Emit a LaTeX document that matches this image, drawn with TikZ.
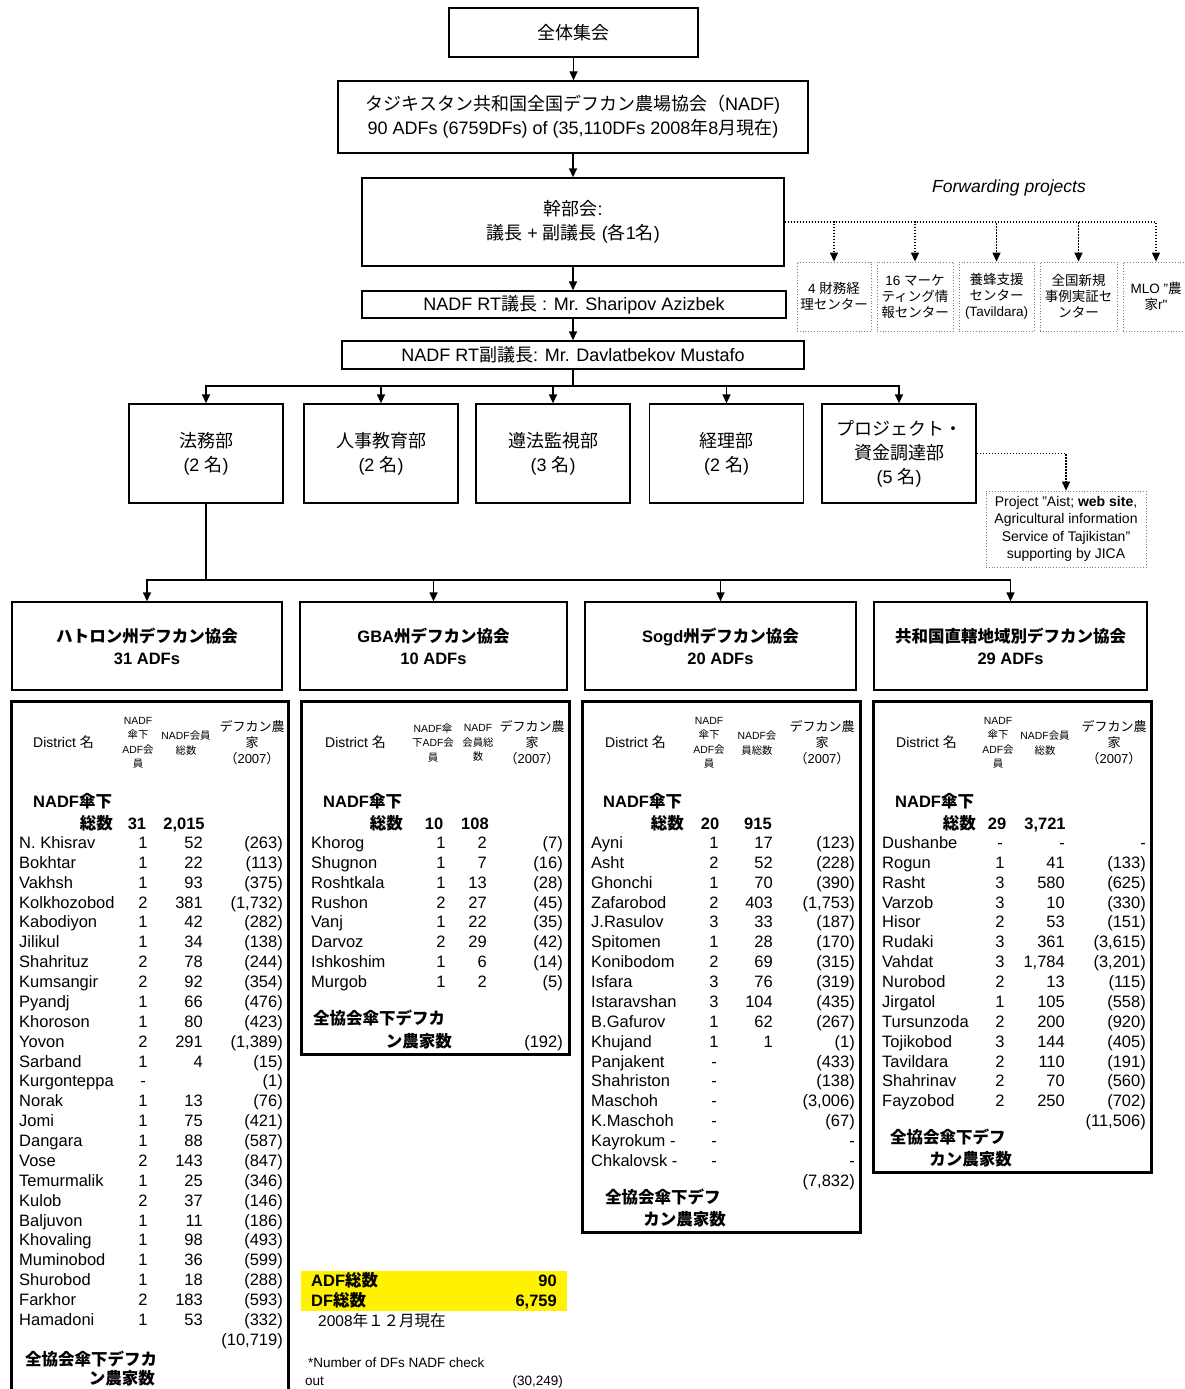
\documentclass[tikz,border=0pt]{standalone}
\usepackage{fontspec}
\setmainfont{Liberation Sans}
\newfontfamily\lsfont[NFSSFamily=lsf]{Liberation Sans}
\newfontfamily\jpfont[NFSSFamily=jpf]{Noto Sans CJK JP}
\usetikzlibrary{arrows.meta,positioning}

% CJK characters are set in the Japanese face automatically
\XeTeXinterchartokenstate=1
\newXeTeXintercharclass\jpclass
\newcount\jpcode
\newcommand\setjprange[2]{%
  \jpcode=#1\relax
  \loop
    \XeTeXcharclass\jpcode=\jpclass
    \ifnum\jpcode<#2\relax
    \advance\jpcode by 1
  \repeat}
\setjprange{"3000}{"30FF}
\setjprange{"4E00}{"9FFF}
\setjprange{"FF00}{"FFEF}
\XeTeXinterchartoks 0 \jpclass = {\fontfamily{jpf}\selectfont}
\XeTeXinterchartoks 4095 \jpclass = {\fontfamily{jpf}\selectfont}
\XeTeXinterchartoks \jpclass 0 = {\fontfamily{lsf}\selectfont}
\XeTeXinterchartoks \jpclass 4095 = {\fontfamily{lsf}\selectfont}

\begin{document}
\begin{tikzpicture}[
  x=1pt, y=-1pt,
  box/.style={
    draw,
    line width=1.3pt,
    align=center,
    inner sep=0pt,
    font=\fontsize{18}{24}\selectfont
  },
  dept/.style={box, minimum width=154pt, minimum height=99pt},
  assoc/.style={box, minimum height=88pt, font=\bfseries\fontsize{16.5}{22}\selectfont},
  fwdbox/.style={
    draw=gray,
    dotted,
    line width=0.8pt,
    align=center,
    inner sep=0pt,
    minimum height=69pt,
    font=\fontsize{13.5}{16}\selectfont
  },
  arr/.style={-{Triangle[length=9pt,width=8pt]}, line width=1.3pt},
  dotarr/.style={arr, dash pattern=on 1.5pt off 1.5pt},
  tabframe/.style={draw, line width=2.5pt, anchor=north west, inner sep=0pt},
  cellL/.style={anchor=base west, inner sep=0pt, font=\fontsize{16.5}{19}\selectfont},
  cellR/.style={cellL, anchor=base east},
  cellC/.style={cellL, anchor=base},
  boldL/.style={anchor=base west, inner sep=0pt, font=\bfseries\fontsize{16.5}{19}\selectfont},
  boldR/.style={boldL, anchor=base east},
  boldC/.style={boldL, anchor=base},
  hdsmall/.style={align=center, inner sep=0pt, font=\fontsize{10.4}{14.5}\selectfont},
  hdmid/.style={align=center, inner sep=0pt, font=\fontsize{13}{16}\selectfont},
  hddist/.style={anchor=west, inner sep=0pt, font=\fontsize{14}{16}\selectfont}
]
\useasboundingbox (0,0) rectangle (1184,1389);

% upper chain
\node[box, minimum width=249pt, minimum height=49pt] (general) at (573.5,32.5) {全体集会};
\node[box, minimum width=470pt, minimum height=72pt] (nadf) at (573,117)
  {タジキスタン共和国全国デフカン農場協会（NADF)\\90 ADFs (6759DFs) of (35,110DFs 2008年8月現在)};
\node[box, minimum width=422pt, minimum height=88pt] (exec) at (573,222) {幹部会:\\議長 + 副議長 (各1名)};
\node[box, minimum width=424pt, minimum height=27pt] (chair) at (574,304.5) {NADF RT議長 : Mr. Sharipov Azizbek};
\node[box, minimum width=462pt, minimum height=28pt] (vice) at (573,355) {NADF RT副議長: Mr. Davlatbekov Mustafo};

\draw[arr] (general.south) -- (general.south |- nadf.north);
\draw[arr] (nadf.south) -- (nadf.south |- exec.north);
\draw[arr] (exec.south) -- (exec.south |- chair.north);
\draw[arr] (exec.south |- chair.south) -- (exec.south |- vice.north);

% forwarding projects
\node[font=\itshape\fontsize{17.5}{20}\selectfont] (fwdlabel) at (1009,188) {Forwarding projects};
\node[fwdbox, minimum width=74pt] (fwdA) at (834,296.5) {4 財務経\\理センター};
\node[fwdbox, minimum width=76pt] (fwdB) at (915,296.5) {16 マーケ\\ティング情\\報センター};
\node[fwdbox, minimum width=75pt] (fwdC) at (996.5,296.5) {養蜂支援\\センター\\(Tavildara)};
\node[fwdbox, minimum width=77pt] (fwdD) at (1078.5,296.5) {全国新規\\事例実証セ\\ンター};
\node[fwdbox, minimum width=66pt] (fwdE) at (1156,296.5) {MLO "農\\家r"};
\foreach \f in {fwdA,fwdB,fwdC,fwdD,fwdE}
  \draw[dotarr] (exec.east) -| (\f.north);

% departments
\coordinate (bus) at (573,386);
\node[dept] (law) at (206,453.5) {法務部\\(2 名)};
\node[dept] (staff) at (381,453.5) {人事教育部\\(2 名)};
\node[dept] (audit) at (553,453.5) {遵法監視部\\(3 名)};
\node[dept] (acct) at (726.5,453.5) {経理部\\(2 名)};
\node[dept] (proj) at (899,453.5) {プロジェクト・\\資金調達部\\(5 名)};
\draw[line width=1.3pt] (vice.south) -- (bus);
\foreach \d in {law,staff,audit,acct,proj}
  \draw[arr] (bus) -| (\d.north);

\node[fwdbox, minimum width=160pt, minimum height=76pt, font=\fontsize{14}{17.5}\selectfont] (aist) at (1066,529)
  {Project "Aist; \textbf{web site},\\Agricultural information\\Service of Tajikistan"\\supporting by JICA};
\draw[dotarr] (proj.east) -| (aist.north);

% regional associations
\coordinate (bus2) at (206,580);
\node[assoc, minimum width=270pt] (khatlon) at (147,646) {ハトロン州デフカン協会\\31 ADFs};
\node[assoc, minimum width=267pt] (gba) at (433.5,646) {GBA州デフカン協会\\10 ADFs};
\node[assoc, minimum width=271pt] (sogd) at (720.5,646) {Sogd州デフカン協会\\20 ADFs};
\node[assoc, minimum width=273pt] (direct) at (1010.5,646) {共和国直轄地域別デフカン協会\\29 ADFs};
\draw[line width=1.3pt] (law.south) -- (bus2);
\foreach \a in {khatlon,gba,sogd,direct}
  \draw[arr] (bus2) -| (\a.north);

% Khatlon table
\node[tabframe, minimum width=277pt, minimum height=700pt] (khtab) at (10,700) {};
\node[hddist] (khh0) at (33,742) {District 名};
\node[hdsmall] (khh1) at (138,743) {NADF\\傘下\\ADF会\\員};
\node[hdsmall] (khh2) at (186,743) {NADF会員\\総数};
\node[hdmid] (khh3) at (252,743) {デフカン農\\家\\（2007）};
\node[boldL] (khs1) at (33,807) {NADF傘下};
\node[boldR] (khs2) at (113,829) {総数};
\node[boldC] (khs3) at (137,829) {31};
\node[boldC] (khs4) at (184,829) {2,015};
\foreach \nm/\a/\b/\c [count=\i] in {
  N. Khisrav/1/52/(263), Bokhtar/1/22/(113), Vakhsh/1/93/(375),
  Kolkhozobod/2/381/{(1,732)}, Kabodiyon/1/42/(282), Jilikul/1/34/(138),
  Shahrituz/2/78/(244), Kumsangir/2/92/(354), Pyandj/1/66/(476),
  Khoroson/1/80/(423), Yovon/2/291/{(1,389)}, Sarband/1/4/(15),
  Kurgonteppa/-/{}/(1), Norak/1/13/(76), Jomi/1/75/(421),
  Dangara/1/88/(587), Vose/2/143/(847), Temurmalik/1/25/(346),
  Kulob/2/37/(146), Baljuvon/1/11/(186), Khovaling/1/98/(493),
  Muminobod/1/36/(599), Shurobod/1/18/(288), Farkhor/2/183/(593),
  Hamadoni/1/53/(332)}{
  \pgfmathsetmacro\yy{848.5+19.87*(\i-1)}
  \node[cellL] (khn\i) at (19,\yy) {\nm};
  \node[cellC] (kha\i) at (143,\yy) {\a};
  \node[cellR] (khb\i) at (203,\yy) {\b};
  \node[cellR] (khc\i) at (283,\yy) {\c};
}
\node[cellR] (khsum) at (283,1345.5) {(10,719)};
\node[boldL] (khf1) at (25,1365.5) {全協会傘下デフカ};
\node[boldR] (khf2) at (155,1384.5) {ン農家数};

% GBA table
\node[tabframe, minimum width=268pt, minimum height=353pt] (gbtab) at (300,700) {};
\node[hddist] (gbh0) at (325,742) {District 名};
\node[hdsmall] (gbh1) at (433,743) {NADF傘\\下ADF会\\員};
\node[hdsmall] (gbh2) at (478,743) {NADF\\会員総\\数};
\node[hdmid] (gbh3) at (532,743) {デフカン農\\家\\（2007）};
\node[boldL] (gbs1) at (323,807) {NADF傘下};
\node[boldR] (gbs2) at (403,829) {総数};
\node[boldC] (gbs3) at (434,829) {10};
\node[boldC] (gbs4) at (475,829) {108};
\foreach \nm/\a/\b/\c [count=\i] in {
  Khorog/1/2/(7), Shugnon/1/7/(16), Roshtkala/1/13/(28), Rushon/2/27/(45),
  Vanj/1/22/(35), Darvoz/2/29/(42), Ishkoshim/1/6/(14), Murgob/1/2/(5)}{
  \pgfmathsetmacro\yy{848.5+19.87*(\i-1)}
  \node[cellL] (gbn\i) at (311,\yy) {\nm};
  \node[cellC] (gba\i) at (441,\yy) {\a};
  \node[cellR] (gbb\i) at (487,\yy) {\b};
  \node[cellR] (gbc\i) at (563,\yy) {\c};
}
\node[boldL] (gbf1) at (313,1024) {全協会傘下デフカ};
\node[boldR] (gbf2) at (452,1047) {ン農家数};
\node[cellR] (gbsum) at (563,1047) {(192)};

% totals under GBA
\node[fill=yellow, minimum width=266pt, minimum height=40pt, anchor=north west, inner sep=0pt] (total) at (301,1271) {};
\node[boldL] (adfl) at (311,1286) {ADF総数};
\node[boldR] (adfn) at (557,1286) {90};
\node[boldL] (dfl) at (311,1306) {DF総数};
\node[boldR] (dfn) at (557,1306) {6,759};
\node[anchor=base west, inner sep=0pt, font=\fontsize{15.5}{18}\selectfont] (asof) at (318,1326) {2008年１２月現在};
\node[anchor=base west, inner sep=0pt, font=\fontsize{13.5}{18}\selectfont] (chk1) at (308,1367) {*Number of DFs NADF check};
\node[anchor=base west, inner sep=0pt, font=\fontsize{13.5}{18}\selectfont] (chk2) at (305,1385) {out};
\node[anchor=base east, inner sep=0pt, font=\fontsize{13.5}{18}\selectfont] (chk3) at (563,1385) {(30,249)};

% Sogd table
\node[tabframe, minimum width=278pt, minimum height=531pt] (sgtab) at (581,700) {};
\node[hddist] (sgh0) at (605,742) {District 名};
\node[hdsmall] (sgh1) at (709,743) {NADF\\傘下\\ADF会\\員};
\node[hdsmall] (sgh2) at (757,743) {NADF会\\員総数};
\node[hdmid] (sgh3) at (822,743) {デフカン農\\家\\（2007）};
\node[boldL] (sgs1) at (603,807) {NADF傘下};
\node[boldR] (sgs2) at (684,829) {総数};
\node[boldC] (sgs3) at (710,829) {20};
\node[boldC] (sgs4) at (758,829) {915};
\foreach \nm/\a/\b/\c [count=\i] in {
  Ayni/1/17/(123), Asht/2/52/(228), Ghonchi/1/70/(390),
  Zafarobod/2/403/{(1,753)}, J.Rasulov/3/33/(187), Spitomen/1/28/(170),
  Konibodom/2/69/(315), Isfara/3/76/(319), Istaravshan/3/104/(435),
  B.Gafurov/1/62/(267), Khujand/1/1/(1), Panjakent/-/{}/(433),
  Shahriston/-/{}/(138), Maschoh/-/{}/{(3,006)}, K.Maschoh/-/{}/(67),
  Kayrokum -/-/{}/-, Chkalovsk -/-/{}/-}{
  \pgfmathsetmacro\yy{848.5+19.87*(\i-1)}
  \node[cellL] (sgn\i) at (591,\yy) {\nm};
  \node[cellC] (sga\i) at (714,\yy) {\a};
  \node[cellR] (sgb\i) at (773,\yy) {\b};
  \node[cellR] (sgc\i) at (855,\yy) {\c};
}
\node[cellR] (sgsum) at (855,1186.5) {(7,832)};
\node[boldL] (sgf1) at (605,1203) {全協会傘下デフ};
\node[boldR] (sgf2) at (726,1225) {カン農家数};

% directly governed districts table
\node[tabframe, minimum width=278pt, minimum height=471pt] (drtab) at (872,700) {};
\node[hddist] (drh0) at (896,742) {District 名};
\node[hdsmall] (drh1) at (998,743) {NADF\\傘下\\ADF会\\員};
\node[hdsmall] (drh2) at (1045,743) {NADF会員\\総数};
\node[hdmid] (drh3) at (1114,743) {デフカン農\\家\\（2007）};
\node[boldL] (drs1) at (895,807) {NADF傘下};
\node[boldR] (drs2) at (976,829) {総数};
\node[boldC] (drs3) at (997,829) {29};
\node[boldC] (drs4) at (1045,829) {3,721};
\foreach \nm/\a/\b/\c [count=\i] in {
  Dushanbe/-/-/-, Rogun/1/41/(133), Rasht/3/580/(625), Varzob/3/10/(330),
  Hisor/2/53/(151), Rudaki/3/361/{(3,615)}, Vahdat/3/{1,784}/{(3,201)},
  Nurobod/2/13/(115), Jirgatol/1/105/(558), Tursunzoda/2/200/(920),
  Tojikobod/3/144/(405), Tavildara/2/110/(191), Shahrinav/2/70/(560),
  Fayzobod/2/250/(702)}{
  \pgfmathsetmacro\yy{848.5+19.87*(\i-1)}
  \node[cellL] (drn\i) at (882,\yy) {\nm};
  \node[cellC] (dra\i) at (1000,\yy) {\a};
  \node[cellR] (drb\i) at (1065,\yy) {\b};
  \node[cellR] (drc\i) at (1146,\yy) {\c};
}
\node[cellR] (drsum) at (1146,1126.5) {(11,506)};
\node[boldL] (drf1) at (890,1143) {全協会傘下デフ};
\node[boldR] (drf2) at (1012,1165) {カン農家数};

\end{tikzpicture}
\end{document}
